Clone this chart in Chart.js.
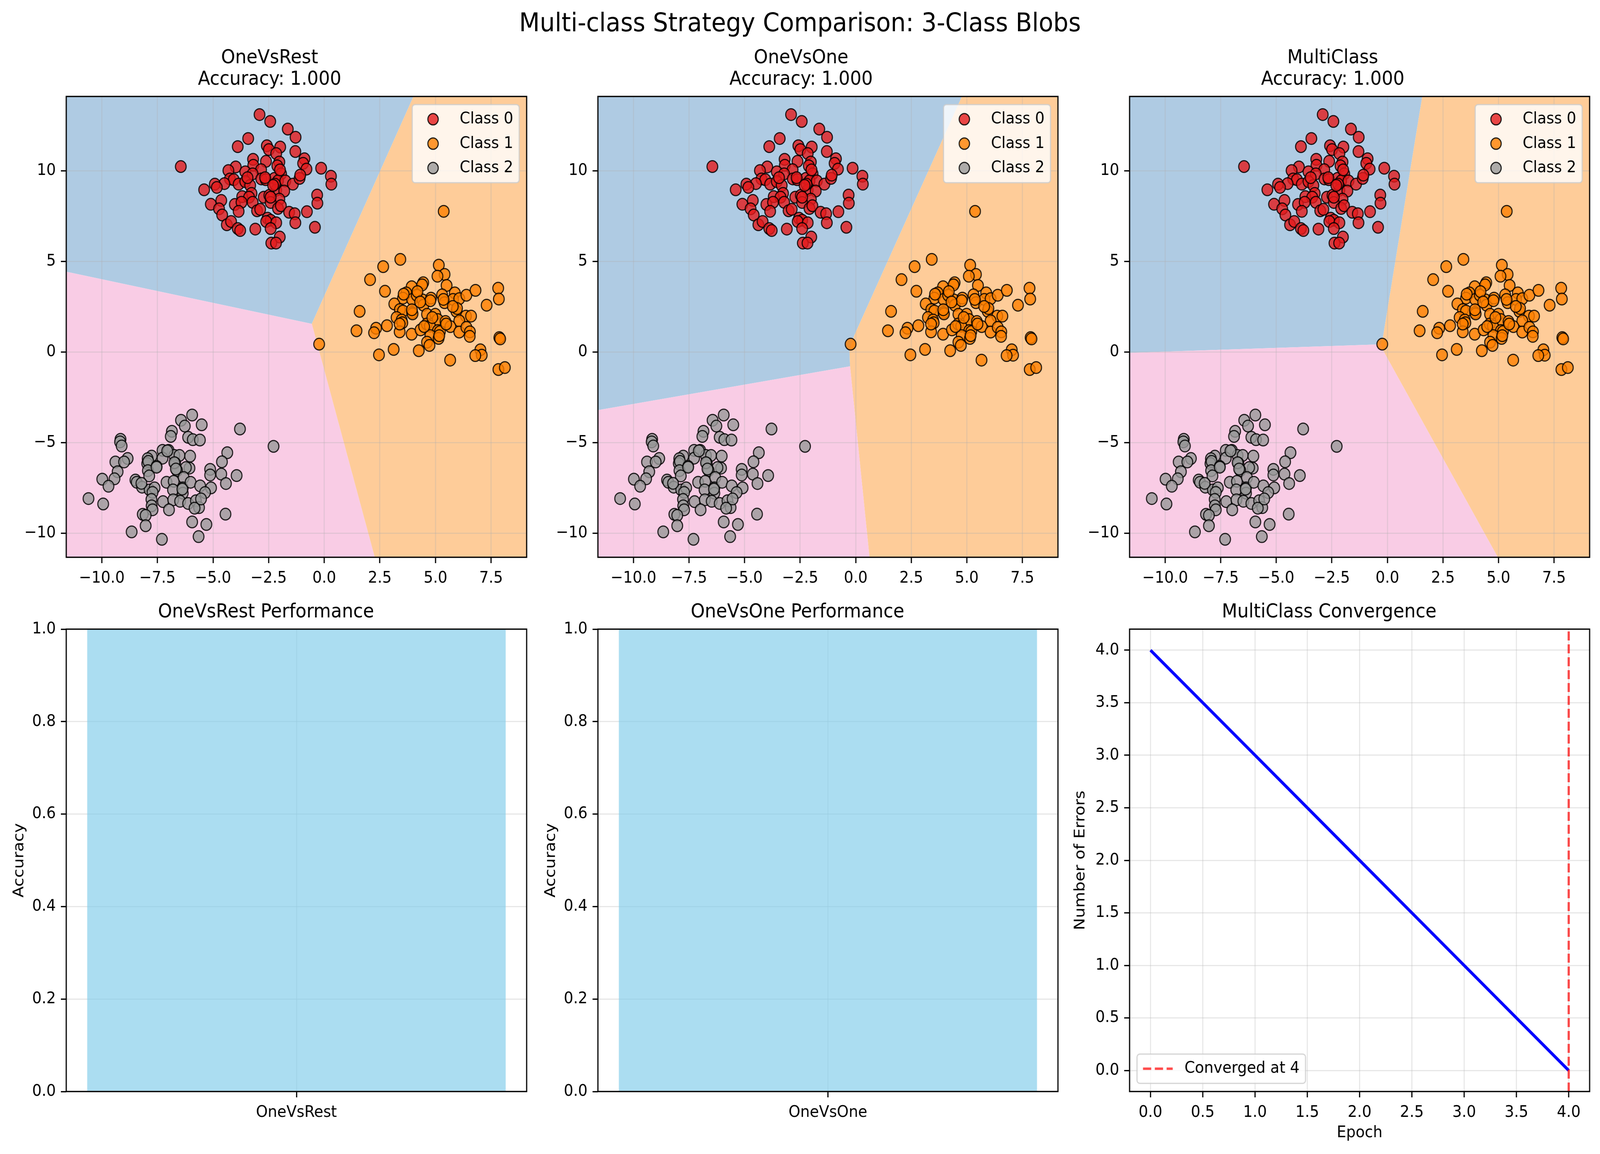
<!DOCTYPE html>
<html>
<head>
<meta charset="utf-8">
<script src="https://cdn.jsdelivr.net/npm/chart.js@4.4.0/dist/chart.umd.min.js"></script>
<style>
html, body { margin: 0; padding: 0; background: #fff; overflow: hidden; }
#fig { position: absolute; left: 0; top: 0; width: 4469px; height: 2955px; overflow: hidden;
  background: #fff; transform-origin: 0 0; }
#fig canvas { position: absolute; }
#suptitle { position: absolute; left: 0; top: 20px; width: 4469px; text-align: center;
  font-family: 'DejaVu Sans'; font-size: 66.7px; line-height: 75px; color: #000; }
</style>
</head>
<body>
<div id="fig">
  <div id="suptitle">Multi-class Strategy Comparison: 3-Class Blobs</div>
</div>
<script>
// ---- data ----
const classNames = ['Class 0', 'Class 1', 'Class 2'];
const strategies = ['OneVsRest', 'OneVsOne', 'MultiClass'];
const accuracies = [1.0, 1.0, 1.0];

const class0Pts = [[-2.91,13.10],[-2.43,12.72],[-1.64,12.30],[-1.29,11.85],[-3.42,11.78],[-3.89,11.33],[-2.58,11.38],
  [-2.49,11.17],[-1.98,11.31],[-2.16,10.95],[-1.30,11.06],[-0.89,10.66],[-0.95,10.41],[-0.80,10.09],[-0.14,10.14],
  [0.30,9.70],[0.32,9.26],[-6.45,10.23],[-3.20,10.63],[-3.19,10.30],[-2.62,10.52],[-2.02,10.48],[-2.11,10.27],
  [-2.84,10.06],[-3.98,10.21],[-4.31,10.01],[-3.55,9.94],[-3.22,9.83],[-1.94,9.83],[-4.24,9.55],[-4.07,9.51],
  [-4.49,9.29],[-4.92,9.26],[-4.83,9.08],[-5.40,8.95],[-3.85,9.26],[-3.55,9.40],[-3.33,9.19],[-2.83,9.55],
  [-2.63,9.51],[-2.24,9.58],[-2.08,9.44],[-1.75,9.44],[-1.41,9.26],[-1.11,9.58],[-1.08,9.76],[-2.16,8.93],
  [-1.80,8.88],[-3.27,8.75],[-3.69,8.57],[-3.38,8.54],[-2.72,8.54],[-2.47,8.64],[-2.02,8.43],[-0.32,8.66],
  [-0.31,8.21],[-5.10,8.15],[-4.63,8.36],[-4.02,8.14],[-3.72,8.26],[-3.22,8.26],[-2.41,8.25],[-2.08,7.92],
  [-1.95,8.07],[-4.73,7.90],[-4.59,7.56],[-3.85,7.76],[-3.02,7.79],[-2.88,7.87],[-1.58,7.71],[-1.33,7.63],
  [-0.78,7.74],[-1.30,7.13],[-0.42,6.88],[-4.38,7.02],[-4.19,7.20],[-3.89,6.81],[-3.78,6.70],[-3.10,6.78],
  [-2.55,7.38],[-2.41,7.27],[-2.61,7.20],[-2.16,7.13],[-2.41,6.81],[-2.00,6.34],[-2.38,6.01],[-2.17,6.01],
  [-2.22,9.26],[-1.99,10.05],[-3.45,9.62],[-2.41,8.54],[-2.66,9.62],[-2.30,9.19]];

const class1Pts = [[-0.23,0.43],[3.42,5.11],[2.65,4.71],[2.06,3.99],[2.73,3.35],[1.59,2.24],[1.45,1.17],[2.33,1.31],
  [2.24,1.06],[2.82,1.45],[3.12,0.14],[2.46,-0.16],[4.25,0.07],[5.15,4.79],[5.41,4.28],[5.09,4.18],[5.50,3.67],
  [4.45,3.82],[4.40,3.70],[3.93,3.60],[3.69,3.26],[3.54,2.97],[3.95,2.90],[4.16,3.13],[3.15,2.65],[3.40,2.34],
  [3.54,2.26],[3.95,2.18],[3.97,2.10],[4.42,2.87],[4.46,2.58],[4.80,2.97],[4.77,2.83],[5.30,3.15],[5.41,2.72],
  [5.87,3.26],[5.79,2.90],[6.07,2.94],[6.39,3.13],[6.80,3.40],[7.82,3.52],[7.85,2.92],[7.30,2.58],[5.94,2.24],
  [5.97,2.40],[6.37,1.98],[6.60,1.98],[6.07,1.72],[4.62,2.08],[4.99,2.08],[5.10,1.79],[5.45,1.68],[5.67,1.40],
  [6.07,1.10],[6.39,1.36],[6.55,1.11],[6.54,0.86],[3.25,1.90],[3.48,1.76],[3.51,1.61],[3.39,1.11],[3.93,0.98],
  [4.33,1.22],[4.61,1.54],[4.75,1.43],[5.11,1.18],[5.20,1.12],[4.77,0.90],[5.14,0.75],[4.62,0.54],[4.73,0.36],
  [5.66,-0.45],[7.02,0.12],[7.08,-0.18],[6.79,-0.20],[7.87,0.79],[7.91,0.72],[7.83,-0.97],[8.12,-0.86],
  [5.48,1.54],[4.86,1.90],[5.36,2.90],[3.57,3.19],[4.19,3.33],[5.78,2.51],[5.17,0.90],[4.31,2.76],[3.94,2.33],
  [3.39,1.54],[4.49,1.40],[5.37,7.76]];

const class2Pts = [[-5.94,-3.48],[-6.44,-3.77],[-6.27,-4.09],[-5.51,-4.02],[-3.79,-4.25],[-6.85,-4.38],[-6.90,-4.66],
  [-6.12,-4.71],[-5.91,-4.84],[-5.59,-4.86],[-2.28,-5.21],[-9.16,-4.82],[-9.18,-4.96],[-9.11,-5.19],[-4.36,-5.56],
  [-7.27,-5.43],[-7.00,-5.43],[-6.74,-5.71],[-6.51,-5.71],[-6.03,-5.75],[-7.76,-5.75],[-7.27,-5.86],[-7.94,-5.89],
  [-8.84,-5.88],[-9.39,-6.07],[-9.00,-6.07],[-7.96,-6.16],[-7.91,-6.04],[-7.54,-6.32],[-6.70,-6.14],[-4.60,-6.06],
  [-5.13,-6.48],[-6.06,-6.41],[-6.22,-6.38],[-7.93,-6.55],[-7.87,-6.84],[-6.62,-6.54],[-9.29,-6.61],[-9.43,-7.00],
  [-9.98,-7.02],[-9.70,-7.41],[-8.49,-7.07],[-8.43,-7.19],[-8.19,-7.46],[-7.85,-7.61],[-7.63,-7.50],[-7.72,-7.75],
  [-7.09,-7.19],[-6.77,-7.14],[-6.32,-6.93],[-6.36,-7.50],[-6.01,-7.19],[-5.13,-6.79],[-4.63,-6.74],[-3.94,-6.82],
  [-4.42,-7.26],[-5.58,-7.39],[-5.09,-7.50],[-5.36,-7.76],[-6.80,-7.61],[-6.36,-7.79],[-7.77,-8.14],[-7.76,-8.49],
  [-7.72,-8.71],[-7.25,-8.26],[-6.79,-8.16],[-6.48,-8.24],[-6.12,-8.36],[-5.77,-8.21],[-5.63,-8.59],[-5.83,-8.62],
  [-6.98,-8.71],[-10.60,-8.09],[-9.94,-8.39],[-8.16,-8.96],[-8.03,-9.02],[-8.03,-9.59],[-8.66,-9.93],[-7.30,-10.34],
  [-5.94,-9.38],[-5.30,-9.52],[-5.65,-10.19],[-4.44,-8.95],[-6.38,-7.57],[-7.06,-5.46],[-7.54,-6.36],[-6.74,-6.11],
  [-8.22,-7.25],[-5.54,-8.11],[-6.67,-6.46]];

// plot limits of the decision-region mesh
const X_MIN = -11.6, X_MAX = 9.1, Y_MIN = -11.33, Y_MAX = 14.1;

// decision regions (polygons in data units) for each strategy, class 0 / 1 / 2
const ovrRegions = [
  [[X_MIN,Y_MAX],[4.01,Y_MAX],[-0.56,1.55],[X_MIN,4.43]],
  [[4.01,Y_MAX],[X_MAX,Y_MAX],[X_MAX,Y_MIN],[2.27,Y_MIN],[-0.56,1.55]],
  [[X_MIN,4.43],[-0.56,1.55],[2.27,Y_MIN],[X_MIN,Y_MIN]]
];
const ovoRegions = [
  [[X_MIN,Y_MAX],[4.78,Y_MAX],[-0.07,0.9],[-0.28,0.05],[-0.255,-0.79],[X_MIN,-3.21]],
  [[4.78,Y_MAX],[X_MAX,Y_MAX],[X_MAX,Y_MIN],[0.62,Y_MIN],[-0.255,-0.79],[-0.28,0.05],[-0.07,0.9]],
  [[X_MIN,-3.21],[-0.255,-0.79],[0.62,Y_MIN],[X_MIN,Y_MIN]]
];
const multiRegions = [
  [[X_MIN,Y_MAX],[1.57,Y_MAX],[-0.2,0.81],[-0.3,0.42],[X_MIN,-0.05]],
  [[1.57,Y_MAX],[X_MAX,Y_MAX],[X_MAX,Y_MIN],[4.97,Y_MIN],[-0.17,0.03],[-0.3,0.42],[-0.2,0.81]],
  [[X_MIN,-0.05],[-0.3,0.42],[-0.17,0.03],[4.97,Y_MIN],[X_MIN,Y_MIN]]
];

// MultiClass convergence
const epochs = [0, 1, 2, 3, 4];
const errorCounts = [4, 3, 2, 1, 0];
const convergedEpoch = 4;

// ---- styling ----
const FONT = 'DejaVu Sans';
const GRID = 'rgba(176,176,176,0.3)';
const pointFill = ['rgba(228,26,28,0.8)', 'rgba(255,127,0,0.8)', 'rgba(153,153,153,0.8)'];
const regionFill = ['rgb(175,203,227)', 'rgb(254,204,153)', 'rgb(249,204,229)'];

Chart.defaults.font.family = FONT;
Chart.defaults.font.size = 41.7;
Chart.defaults.color = '#000';

// the figure is laid out in 4469x2955 figure pixels and stretched to fill the window
const FIG_W = 4469, FIG_H = 2955;
const fitX = window.innerWidth / FIG_W, fitY = window.innerHeight / FIG_H;
document.getElementById('fig').style.transform = 'scale(' + fitX + ',' + fitY + ')';

function fmt(v, d) {
    const s = Math.abs(v).toFixed(d);
    return (v < -1e-9 ? '\u2212' : '') + s;
}

function makeCanvas(ax, ay, aw, ah, pad) {
    const c = document.createElement('canvas');
    const w = pad.L + aw + pad.R, h = pad.T + ah + pad.B;
    c.width = w; c.height = h;
    c.style.left = (ax - pad.L) + 'px';
    c.style.top = (ay - pad.T) + 'px';
    c.style.width = w + 'px';
    c.style.height = h + 'px';
    document.getElementById('fig').appendChild(c);
    return c;
}

// fills the decision regions under the grid
function regionPlugin(regions) {
    return {
        id: 'regions',
        beforeDraw(chart) {
            const ctx = chart.ctx, a = chart.chartArea;
            const sx = chart.scales.x, sy = chart.scales.y;
            ctx.save();
            ctx.beginPath();
            ctx.rect(a.left, a.top, a.right - a.left, a.bottom - a.top);
            ctx.clip();
            regions.forEach((poly, k) => {
                ctx.beginPath();
                poly.forEach((p, i) => {
                    const px = sx.getPixelForValue(p[0]), py = sy.getPixelForValue(p[1]);
                    if (i === 0) ctx.moveTo(px, py); else ctx.lineTo(px, py);
                });
                ctx.closePath();
                ctx.fillStyle = regionFill[k];
                ctx.fill();
            });
            ctx.restore();
        }
    };
}

// black box round the axes (all four spines)
const framePlugin = {
    id: 'frame',
    afterDatasetsDraw(chart) {
        const ctx = chart.ctx, a = chart.chartArea;
        ctx.save();
        ctx.strokeStyle = '#000';
        ctx.lineWidth = 3.3;
        ctx.strokeRect(a.left, a.top, a.right - a.left, a.bottom - a.top);
        ctx.restore();
    }
};

// matplotlib-like legend box inside the axes
function boxLegend(items, corner) {
    return {
        id: 'boxLegend',
        afterDraw(chart) {
            const ctx = chart.ctx, a = chart.chartArea;
            const fs = 41.7, pad = 16.7, handle = 83, gap = 33, rowH = 41.7, sp = 20.8, edge = 20.8;
            ctx.save();
            ctx.font = fs + 'px "' + FONT + '"';
            let tw = 0;
            items.forEach(it => { tw = Math.max(tw, ctx.measureText(it.label).width); });
            const w = pad * 2 + handle + gap + tw;
            const h = pad * 2 + items.length * rowH + (items.length - 1) * sp;
            const x0 = corner === 'upper right' ? a.right - edge - w : a.left + edge;
            const y0 = corner === 'upper right' ? a.top + edge : a.bottom - edge - h;
            ctx.beginPath();
            ctx.roundRect(x0, y0, w, h, 8);
            ctx.fillStyle = 'rgba(255,255,255,0.8)';
            ctx.fill();
            ctx.lineWidth = 3.3;
            ctx.strokeStyle = 'rgba(204,204,204,0.8)';
            ctx.stroke();
            items.forEach((it, i) => {
                const cy = y0 + pad + rowH / 2 + i * (rowH + sp);
                const hx = x0 + pad;
                if (it.type === 'circle') {
                    ctx.beginPath();
                    ctx.arc(hx + handle / 2, cy, 14.5, 0, Math.PI * 2);
                    ctx.fillStyle = it.color;
                    ctx.fill();
                    ctx.lineWidth = 3;
                    ctx.strokeStyle = 'rgba(0,0,0,0.85)';
                    ctx.stroke();
                } else {
                    ctx.beginPath();
                    ctx.setLineDash([23, 10]);
                    ctx.moveTo(hx, cy);
                    ctx.lineTo(hx + handle, cy);
                    ctx.lineWidth = 6.25;
                    ctx.strokeStyle = it.color;
                    ctx.stroke();
                    ctx.setLineDash([]);
                }
                ctx.fillStyle = '#000';
                ctx.textAlign = 'left';
                ctx.textBaseline = 'middle';
                ctx.fillText(it.label, hx + handle + gap, cy);
            });
            ctx.restore();
        }
    };
}

function gridOpts() {
    return { color: GRID, lineWidth: 3, drawTicks: true, tickLength: 15, tickWidth: 3.3, tickColor: '#000' };
}

function titleOpts(lines) {
    return { display: true, text: lines, color: '#000',
        font: { family: FONT, size: 50, weight: 'normal', lineHeight: 1.1 },
        padding: { top: 0, bottom: 15 } };
}

// ---- figure layout (axes boxes in figure pixels) ----
const colLeft = [185, 1670, 3155];
const colWidth = [1286, 1285, 1285];
const row1 = { top: 247, h: 1180 };
const row2 = { top: 1611, h: 1184 };

function scatterPlot(col, name, acc, regions) {
    const pad = { L: 150, T: 125, R: 20, B: 90 };
    const c = makeCanvas(colLeft[col], row1.top, colWidth[col], row1.h, pad);
    const sets = [class0Pts, class1Pts, class2Pts].map((pts, k) => ({
        label: classNames[k],
        data: pts.map(p => ({ x: p[0], y: p[1] })),
        backgroundColor: pointFill[k],
        borderColor: 'rgba(0,0,0,0.85)',
        borderWidth: 3,
        pointRadius: 15,
        order: 3 - k
    }));
    new Chart(c, {
        type: 'scatter',
        data: { datasets: sets },
        options: {
            animation: false, responsive: false, devicePixelRatio: 1,
            layout: { padding: { left: 0, top: 0, right: pad.R, bottom: 0 } },
            plugins: { legend: { display: false }, tooltip: { enabled: false },
                title: titleOpts([name, 'Accuracy: ' + acc.toFixed(3)]) },
            scales: {
                x: { type: 'linear', min: X_MIN, max: X_MAX,
                    ticks: { stepSize: 2.5, includeBounds: false, padding: 14, callback: v => fmt(v, 1) },
                    grid: gridOpts(), border: { display: false },
                    afterFit: s => { s.height = pad.B; } },
                y: { type: 'linear', min: Y_MIN, max: Y_MAX,
                    ticks: { stepSize: 5, includeBounds: false, padding: 14, callback: v => fmt(v, 0) },
                    grid: gridOpts(), border: { display: false },
                    afterFit: s => { s.width = pad.L; } }
            }
        },
        plugins: [regionPlugin(regions), framePlugin,
            boxLegend(classNames.map((n, k) => ({ label: n, type: 'circle', color: pointFill[k] })), 'upper right')]
    });
}

function barPlot(col, name, acc) {
    const pad = { L: 170, T: 70, R: 20, B: 90 };
    const c = makeCanvas(colLeft[col], row2.top, colWidth[col], row2.h, pad);
    new Chart(c, {
        type: 'bar',
        data: { labels: [name], datasets: [{ data: [acc], backgroundColor: 'rgba(135,206,235,0.7)',
            barPercentage: 0.909, categoryPercentage: 1.0 }] },
        options: {
            animation: false, responsive: false, devicePixelRatio: 1,
            layout: { padding: { left: 0, top: 0, right: pad.R, bottom: 0 } },
            plugins: { legend: { display: false }, tooltip: { enabled: false },
                title: titleOpts(name + ' Performance') },
            scales: {
                x: { offset: true, ticks: { padding: 14 },
                    grid: Object.assign(gridOpts(), { offset: false }), border: { display: false },
                    afterFit: s => { s.height = pad.B; } },
                y: { min: 0, max: 1,
                    ticks: { stepSize: 0.2, padding: 14, callback: v => v.toFixed(1) },
                    grid: gridOpts(), border: { display: false },
                    title: { display: true, text: 'Accuracy', font: { size: 41.7, lineHeight: 1.2 }, padding: { top: 14, bottom: 0 } },
                    afterFit: s => { s.width = pad.L; } }
            }
        },
        plugins: [framePlugin]
    });
}

function convergencePlot(col) {
    const pad = { L: 170, T: 70, R: 20, B: 141 };
    const c = makeCanvas(colLeft[col], row2.top, colWidth[col], row2.h, pad);
    const yLo = -0.2, yHi = 4.2;
    new Chart(c, {
        type: 'scatter',
        data: { datasets: [
            { label: 'errors', data: epochs.map((e, i) => ({ x: e, y: errorCounts[i] })),
              showLine: true, borderColor: 'blue', borderWidth: 8, pointRadius: 0, order: 1 },
            { label: 'Converged at ' + convergedEpoch,
              data: [{ x: convergedEpoch, y: yLo }, { x: convergedEpoch, y: yHi }],
              showLine: true, borderColor: 'rgba(255,0,0,0.7)', borderWidth: 6.25, borderDash: [23, 10],
              pointRadius: 0, order: 0 }
        ] },
        options: {
            animation: false, responsive: false, devicePixelRatio: 1,
            layout: { padding: { left: 0, top: 0, right: pad.R, bottom: 0 } },
            plugins: { legend: { display: false }, tooltip: { enabled: false },
                title: titleOpts('MultiClass Convergence') },
            scales: {
                x: { type: 'linear', min: -0.2, max: 4.2,
                    ticks: { stepSize: 0.5, includeBounds: false, padding: 14, callback: v => v.toFixed(1) },
                    grid: gridOpts(), border: { display: false },
                    title: { display: true, text: 'Epoch', font: { size: 41.7, lineHeight: 1.2 }, padding: { top: 0, bottom: 10 } },
                    afterFit: s => { s.height = pad.B; } },
                y: { type: 'linear', min: yLo, max: yHi,
                    ticks: { stepSize: 0.5, includeBounds: false, padding: 14, callback: v => v.toFixed(1) },
                    grid: gridOpts(), border: { display: false },
                    title: { display: true, text: 'Number of Errors', font: { size: 41.7, lineHeight: 1.2 }, padding: { top: 8, bottom: 0 } },
                    afterFit: s => { s.width = pad.L; } }
            }
        },
        plugins: [framePlugin,
            boxLegend([{ label: 'Converged at ' + convergedEpoch, type: 'dash', color: 'rgba(255,0,0,0.7)' }], 'lower left')]
    });
}

scatterPlot(0, strategies[0], accuracies[0], ovrRegions);
scatterPlot(1, strategies[1], accuracies[1], ovoRegions);
scatterPlot(2, strategies[2], accuracies[2], multiRegions);
barPlot(0, strategies[0], accuracies[0]);
barPlot(1, strategies[1], accuracies[1]);
convergencePlot(2);
</script>
</body>
</html>
